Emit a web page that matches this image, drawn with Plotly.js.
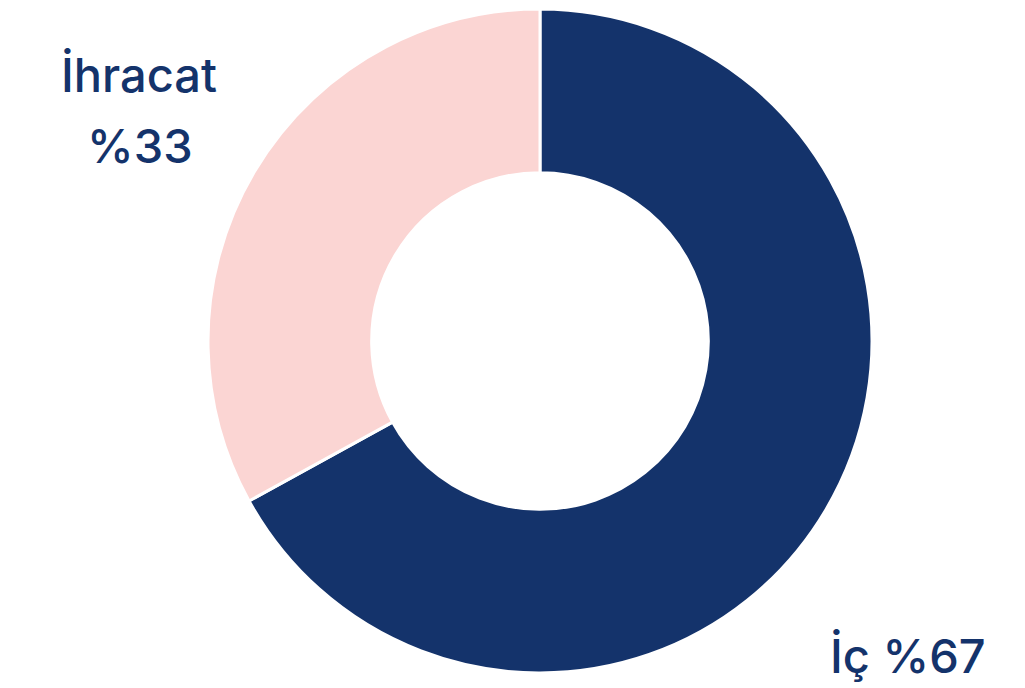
<!DOCTYPE html>
<html>
<head>
<meta charset="utf-8">
<script src="https://cdn.plot.ly/plotly-3.0.1.min.js"></script>
<style>html,body{margin:0;padding:0;background:#fff;}#chart{width:1025px;height:688px;}</style>
</head>
<body>
<div id="chart"></div>
<script>
const labels = ["İç", "İhracat"];
const values = [67, 33];
const colors = ["#14336b", "#fbd5d3"];
const labelNames = ["İç", "İhracat"];
const labelPercents = ["%67", "%33"];

const W = 1025, H = 688;
const px = x => x / W;
const py = y => 1 - y / H;

const trace = {
  type: "pie",
  labels: labels,
  values: values,
  hole: 0.507,
  sort: false,
  direction: "clockwise",
  rotation: 0,
  marker: {colors: colors, line: {color: "#ffffff", width: 3}},
  textinfo: "none",
  hoverinfo: "label+percent",
  showlegend: false,
  domain: {x: [px(208), px(872)], y: [py(673), py(9)]}
};

const font = {family: "Inter, Open Sans, sans-serif", size: 47, color: "#14336b", weight: 500};
const layout = {
  width: W, height: H,
  margin: {l: 0, r: 0, t: 0, b: 0},
  paper_bgcolor: "#ffffff",
  showlegend: false,
  annotations: [
    {text: labelNames[1], x: px(139), y: py(75), xref: "paper", yref: "paper",
     xanchor: "center", yanchor: "middle", showarrow: false, font: font},
    {text: labelPercents[1], x: px(140), y: py(145), xref: "paper", yref: "paper",
     xanchor: "center", yanchor: "middle", showarrow: false, font: font},
    {text: labelNames[0] + " " + labelPercents[0], x: px(908), y: py(655), xref: "paper", yref: "paper",
     xanchor: "center", yanchor: "middle", showarrow: false, font: font}
  ]
};

Plotly.newPlot("chart", [trace], layout, {displayModeBar: false, staticPlot: true});
</script>
</body>
</html>
